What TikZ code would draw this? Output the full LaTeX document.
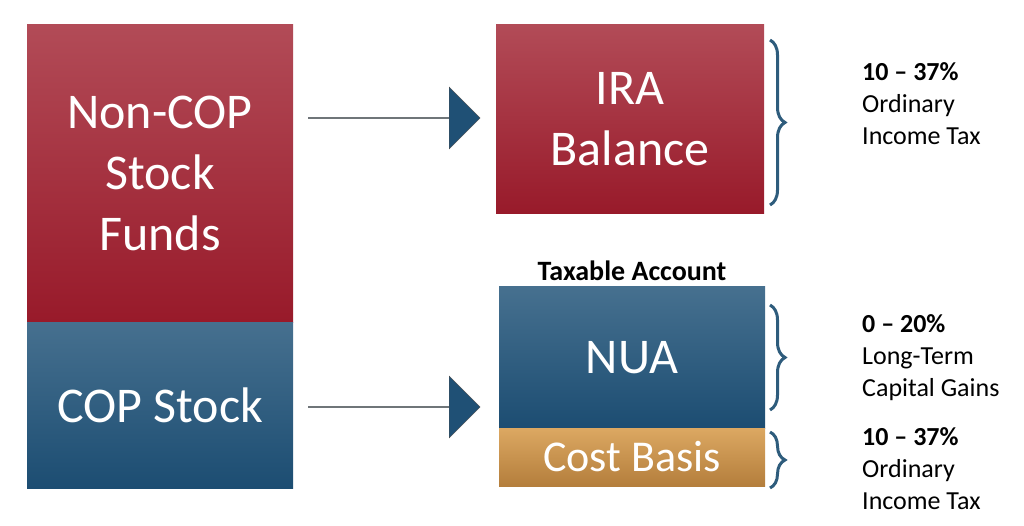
\documentclass[tikz,border=0pt]{standalone}
\usepackage{fontspec}
\setmainfont{Carlito}
\usetikzlibrary{shapes.arrows,decorations.pathreplacing}
\definecolor{redtop}{HTML}{B24B57}
\definecolor{redbot}{HTML}{981A2A}
\definecolor{bluetop}{HTML}{46708F}
\definecolor{bluebot}{HTML}{1C4D72}
\definecolor{tantop}{HTML}{DCA862}
\definecolor{tanbot}{HTML}{B47E3C}
\definecolor{bracecol}{HTML}{2E5C7C}
\definecolor{arrowcol}{HTML}{1F5075}

\tikzset{
  redbox/.style={draw=none, top color=redtop, bottom color=redbot, text=white, align=center,
    inner sep=0pt, font=\fontsize{50}{61}\selectfont},
  bluebox/.style={redbox, top color=bluetop, bottom color=bluebot},
  tanbox/.style={redbox, top color=tantop, bottom color=tanbot},
  bigarrow/.style={single arrow, draw=black!70, fill=arrowcol, minimum height=172pt,
    minimum width=62pt, single arrow head extend=15pt, single arrow tip angle=90, inner sep=0pt},
  taxbrace/.style={draw=bracecol, line width=3pt, decorate,
    decoration={brace, amplitude=15pt}},
  taxnote/.style={anchor=north west, align=left, inner sep=0pt,
    font=\fontsize{26}{32}\selectfont}
}

\begin{document}
\begin{tikzpicture}[x=1pt,y=-1pt]
  \useasboundingbox (0,0) rectangle (1024,526);

  % left column
  \node[redbox, minimum width=266pt, minimum height=297pt] (noncop) at (160,173.5) {Non-COP\\Stock\\Funds};
  \node[bluebox, minimum width=266pt, minimum height=166pt] (cop) at (160,405) {COP Stock};

  % right column
  \node[redbox, minimum width=268pt, minimum height=189pt] (ira) at (630,119.5) {IRA\\Balance};
  \node[bluebox, minimum width=266pt, minimum height=141pt] (nua) at (632,357.5) {NUA};
  \node[tanbox, minimum width=266pt, minimum height=58pt, font=\fontsize{44}{50}\selectfont] (basis) at (632,457) {Cost Basis};
  \node[font=\bfseries\fontsize{28}{32}\selectfont, anchor=south] (taxable) at (nua.north) [yshift=3pt] {Taxable Account};

  % arrows
  \node[bigarrow] (arr1) at (394,118) {};
  \node[bigarrow] (arr2) at (394,407) {};

  % braces
  \draw[taxbrace] (770,40) -- (770,205);
  \draw[taxbrace] (770,305) -- (770,410);
  \draw[taxbrace] (770,432) -- (770,488);

  % tax notes
  \node[taxnote] (note1) at (862,62) {\textbf{10 – 37\%}\\Ordinary\\Income Tax};
  \node[taxnote] (note2) at (862,314) {\textbf{0 – 20\%}\\Long-Term\\Capital Gains};
  \node[taxnote] (note3) at (862,427) {\textbf{10 – 37\%}\\Ordinary\\Income Tax};
\end{tikzpicture}
\end{document}
